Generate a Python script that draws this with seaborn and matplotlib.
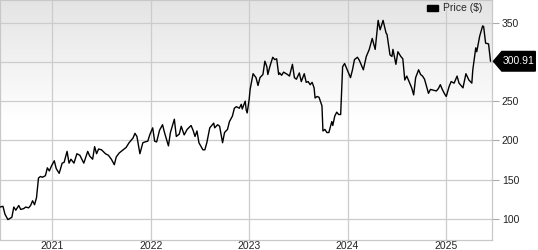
import numpy as np
import pandas as pd
import matplotlib
matplotlib.use("Agg")
import matplotlib.pyplot as plt
import seaborn as sns
from matplotlib.patches import Polygon, Patch
from matplotlib.transforms import blended_transform_factory

# ---- data ----
year_pos = [
    2020.47, 2020.50, 2020.52, 2020.55, 2020.59, 2020.61, 2020.63, 2020.66, 2020.68, 2020.71,
    2020.73, 2020.76, 2020.78, 2020.80, 2020.82, 2020.84, 2020.86, 2020.88, 2020.90, 2020.93,
    2020.95, 2020.97, 2020.99, 2021.02, 2021.04, 2021.07, 2021.10, 2021.12, 2021.15, 2021.17,
    2021.19, 2021.22, 2021.25, 2021.28, 2021.32, 2021.36, 2021.38, 2021.41, 2021.43, 2021.45,
    2021.47, 2021.50, 2021.54, 2021.57, 2021.60, 2021.63, 2021.65, 2021.68, 2021.72, 2021.75,
    2021.78, 2021.82, 2021.84, 2021.86, 2021.89, 2021.92, 2021.94, 2021.97, 2021.99, 2022.02,
    2022.04, 2022.06, 2022.09, 2022.12, 2022.14, 2022.18, 2022.20, 2022.24, 2022.26, 2022.29,
    2022.31, 2022.34, 2022.37, 2022.41, 2022.43, 2022.45, 2022.47, 2022.49, 2022.53, 2022.55,
    2022.57, 2022.60, 2022.64, 2022.65, 2022.68, 2022.70, 2022.73, 2022.75, 2022.78, 2022.80,
    2022.83, 2022.85, 2022.87, 2022.90, 2022.92, 2022.93, 2022.96, 2022.97, 2022.98, 2023.00,
    2023.01, 2023.04, 2023.07, 2023.09, 2023.11, 2023.14, 2023.16, 2023.18, 2023.19, 2023.21,
    2023.24, 2023.26, 2023.28, 2023.30, 2023.31, 2023.33, 2023.35, 2023.39, 2023.41, 2023.44,
    2023.46, 2023.48, 2023.51, 2023.53, 2023.56, 2023.58, 2023.60, 2023.62, 2023.64, 2023.66,
    2023.67, 2023.69, 2023.71, 2023.74, 2023.75, 2023.77, 2023.79, 2023.81, 2023.84, 2023.85,
    2023.87, 2023.89, 2023.91, 2023.93, 2023.95, 2023.97, 2024.01, 2024.03, 2024.05, 2024.07,
    2024.10, 2024.12, 2024.16, 2024.19, 2024.22, 2024.25, 2024.28, 2024.31, 2024.33, 2024.36,
    2024.39, 2024.40, 2024.43, 2024.45, 2024.46, 2024.49, 2024.51, 2024.54, 2024.56, 2024.58,
    2024.60, 2024.63, 2024.65, 2024.67, 2024.69, 2024.72, 2024.74, 2024.76, 2024.78, 2024.82,
    2024.84, 2024.87, 2024.90, 2024.92, 2024.94, 2024.96, 2024.98, 2025.00, 2025.03, 2025.05,
    2025.08, 2025.11, 2025.13, 2025.17, 2025.20, 2025.23, 2025.26, 2025.27, 2025.30, 2025.31,
    2025.34, 2025.37, 2025.38, 2025.40, 2025.43, 2025.45,
]
price = [
    115, 116, 106, 99, 102, 115, 111, 117, 112, 113,
    115, 114, 117, 123, 118, 127, 152, 154, 153, 155,
    165, 161, 167, 174, 164, 158, 171, 172, 186, 171,
    176, 171, 183, 181, 171, 186, 180, 176, 192, 183,
    189, 188, 183, 181, 176, 169, 179, 184, 188, 191,
    197, 203, 209, 205, 183, 197, 198, 199, 207, 216,
    199, 198, 213, 220, 210, 193, 210, 227, 205, 208,
    218, 207, 214, 219, 213, 205, 212, 197, 188, 188,
    197, 216, 222, 216, 220, 218, 197, 210, 214, 224,
    231, 241, 243, 241, 246, 240, 250, 239, 235, 252,
    265, 285, 280, 270, 280, 284, 301, 294, 284, 294,
    306, 303, 304, 284, 286, 283, 287, 284, 282, 297,
    280, 278, 286, 275, 285, 274, 275, 271, 274, 267,
    254, 256, 255, 244, 212, 214, 210, 210, 224, 219,
    231, 236, 233, 233, 294, 298, 286, 280, 290, 303,
    306, 302, 290, 307, 316, 330, 316, 353, 341, 353,
    337, 335, 309, 307, 316, 297, 313, 307, 304, 277,
    282, 273, 267, 258, 280, 290, 284, 282, 278, 260,
    265, 264, 263, 266, 271, 265, 260, 256, 269, 275,
    273, 282, 273, 267, 285, 277, 273, 290, 318, 313,
    333, 346, 345, 324, 323, 300.91,
]
y_ticks = [100, 150, 200, 250, 300, 350]
x_tick_labels = ["2021", "2022", "2023", "2024", "2025"]
series_name = "Price ($)"
last_label = "300.91"


def to_dt(y):
    yr = int(np.floor(y))
    frac = y - yr
    start = pd.Timestamp(year=yr, month=1, day=1)
    days = (pd.Timestamp(year=yr + 1, month=1, day=1) - start).days
    return start + pd.Timedelta(days=frac * days)


df = pd.DataFrame({"date": [to_dt(v) for v in year_pos], "price": price})

sns.set_style("white")
plt.rcParams["font.family"] = ["Liberation Sans", "DejaVu Sans"]

fig = plt.figure(figsize=(5.38, 2.5), dpi=100)
ax = fig.add_axes([0.0, 0.04, 492 / 538, 0.96])

xmin, xmax = to_dt(2020.47), to_dt(2025.465)
ymin, ymax = 73, 379

# gradient background
grad = np.linspace(0, 1, 256).reshape(-1, 1)
cmap = matplotlib.colors.LinearSegmentedColormap.from_list(
    "bg", [(0.0, "#e4e4e4"), (0.5, "#ffffff"), (1.0, "#ffffff")])
ax.imshow(grad, aspect="auto", cmap=cmap, extent=[0, 1, 0, 1],
          transform=ax.transAxes, zorder=0)

sns.lineplot(data=df, x="date", y="price", ax=ax, color="black", lw=1.0,
             zorder=3, legend=False)

ax.set_xlim(xmin, xmax)
ax.set_ylim(ymin, ymax)

ax.set_yticks(y_ticks)
# the 300 label sits under the last-value tag in the reference, so it is not shown
ax.set_yticklabels(["" if t == 300 else str(t) for t in y_ticks])
ax.yaxis.tick_right()
ax.tick_params(axis="y", direction="out", length=5, width=0.8, color="#aaaaaa",
               labelsize=7.5, labelcolor="#222222", pad=2)

xt = [pd.Timestamp(year=int(s), month=1, day=1) for s in x_tick_labels]
ax.set_xticks(xt)
ax.set_xticklabels(x_tick_labels)
ax.tick_params(axis="x", length=0, labelsize=7.5, labelcolor="#222222", pad=0.5)
ax.set_xlabel("")
ax.set_ylabel("")

ax.grid(True, color="#cccccc", lw=0.9, zorder=1)
ax.set_axisbelow(True)
for s in ax.spines.values():
    s.set_color("#c8c8c8")
    s.set_linewidth(0.9)

# legend
ax.legend(handles=[Patch(facecolor="black", edgecolor="black")], labels=[series_name],
          loc="upper right", bbox_to_anchor=(1.0, 1.025), frameon=False,
          handlelength=1.1, handleheight=0.5, handletextpad=0.5, fontsize=7.5)

# last value tag
tr = blended_transform_factory(ax.transAxes, ax.transData)
last = price[-1]
h = 12.5
poly = Polygon([(1.003, last), (1.02, last + h), (1.088, last + h),
                (1.088, last - h), (1.02, last - h)], closed=True,
               facecolor="black", edgecolor="black", transform=tr, clip_on=False, zorder=5)
fig.add_artist(poly)
fig.text(1.054, last, last_label, transform=tr, color="white", fontsize=7.5,
         ha="center", va="center", zorder=6)

fig.savefig("out.png", dpi=100)
